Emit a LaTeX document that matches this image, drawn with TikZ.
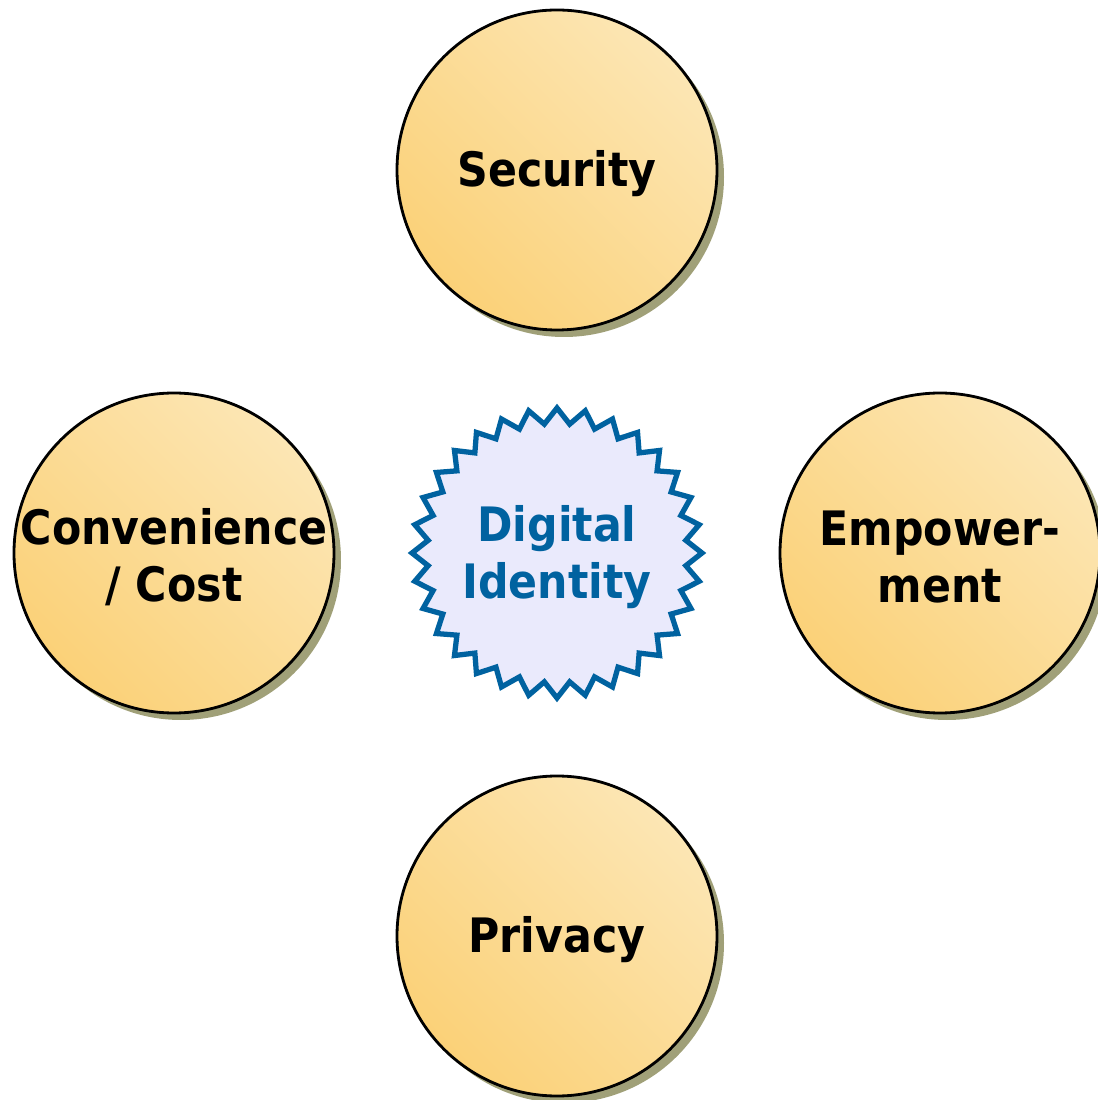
\documentclass[tikz,border=0pt]{standalone}
\usepackage{fontspec}
\setmainfont[FakeStretch=0.9]{DejaVu Sans}
\usetikzlibrary{shapes.geometric,shadows}
\usetikzlibrary{positioning}
\definecolor{discdark}{RGB}{251,209,120}
\definecolor{disclight}{RGB}{252,230,180}
\definecolor{idblue}{RGB}{0,98,160}
\definecolor{idfill}{RGB}{234,234,252}
\definecolor{shadeolive}{RGB}{160,160,120}
\begin{document}
\begin{tikzpicture}[node distance=0.78cm,every node/.style={outer sep=0pt,inner sep=0pt,align=center,font=\bfseries\fontsize{13.5}{16.2}\selectfont},every label/.style={yshift=-0.04cm},
aspect/.style={circle,draw=black,line width=0.8pt,minimum size=3.2cm,top color=disclight,bottom color=discdark,shading angle=-45,drop shadow={shadow xshift=0.07cm,shadow yshift=-0.07cm,fill=shadeolive,opacity=1}},
core/.style={star,star points=32,star point ratio=1.12,draw=idblue,line width=1.5pt,fill=idfill,minimum size=2.9cm}]
\useasboundingbox (-5.57,-5.47) rectangle (5.40,5.53);
\node[core,label={[text=idblue]center:Digital\\Identity}] (id) {};
\node[aspect,label=center:Security] (sec) [above=of id] {};
\node[aspect,label=center:Convenience\\/ Cost] (conv) [left=of id] {};
\node[aspect,label=center:Empower-\\ment] (emp) [right=of id] {};
\node[aspect,label=center:Privacy] (priv) [below=of id] {};
\end{tikzpicture}
\end{document}
